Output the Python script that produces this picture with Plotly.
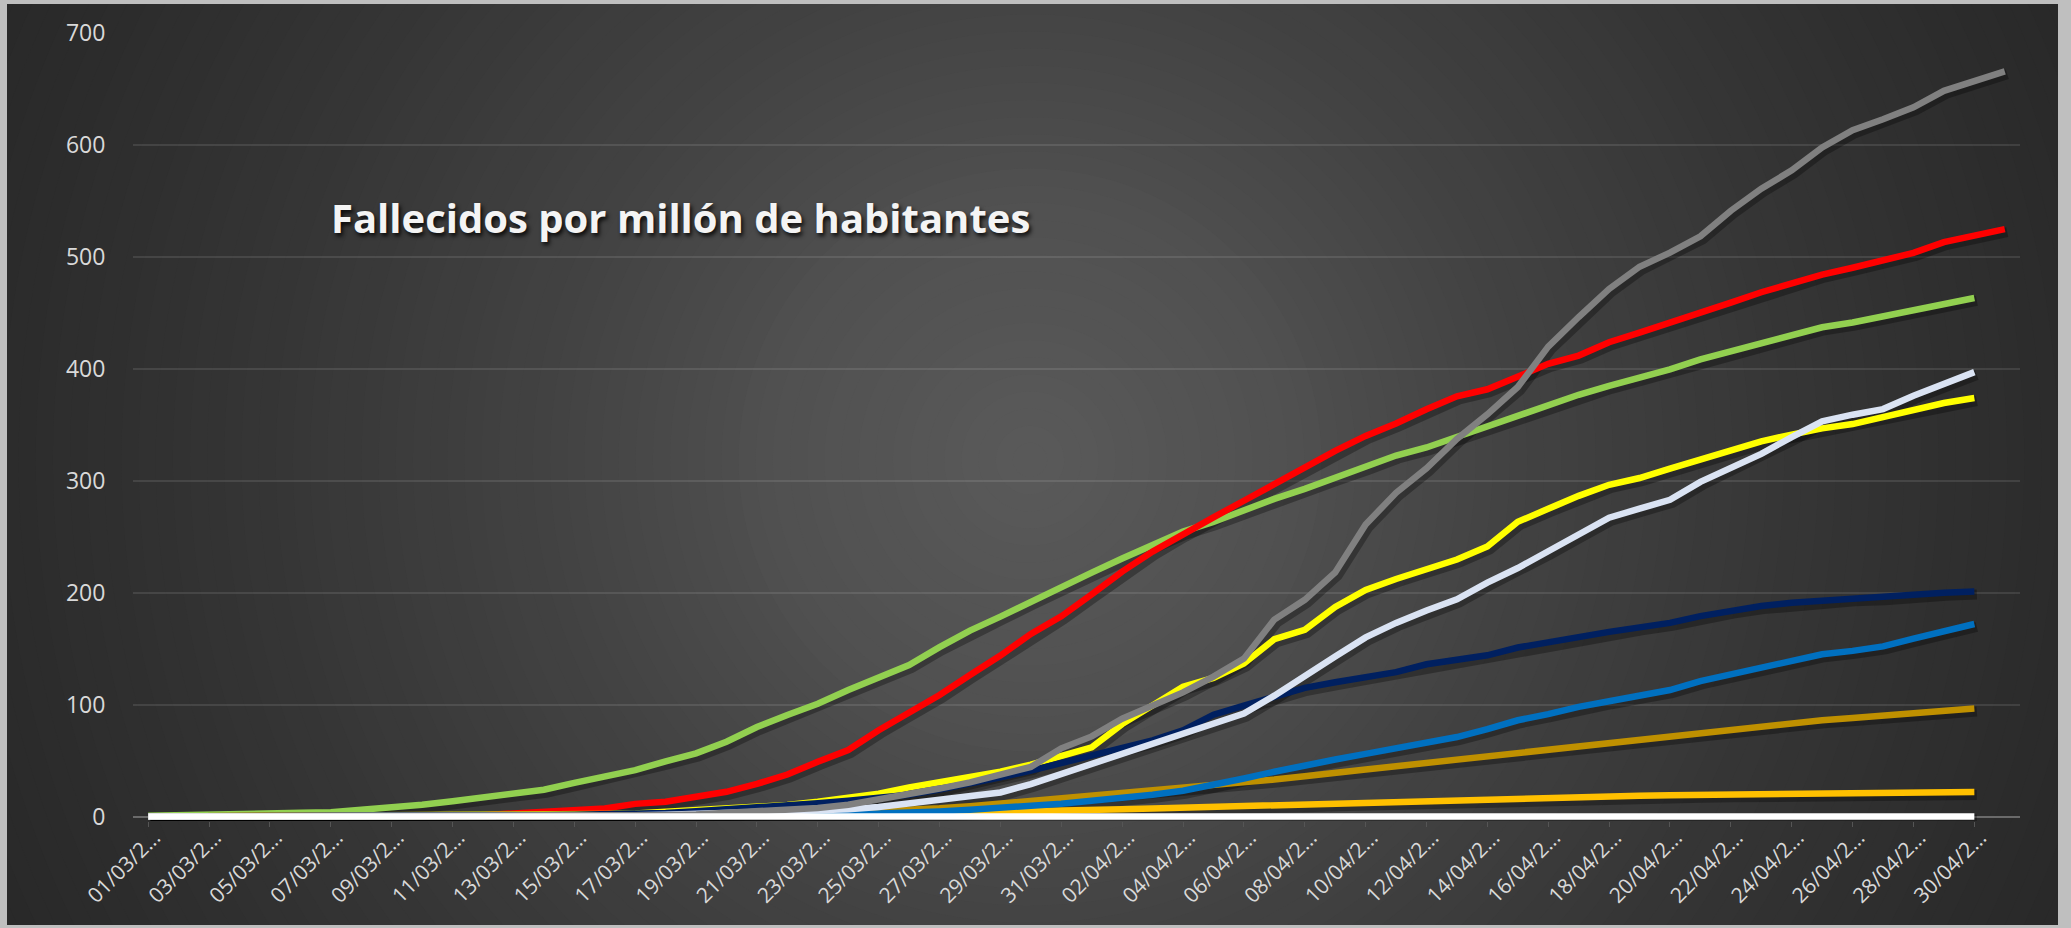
import plotly.graph_objects as go
import pandas as pd

# ---------------- data ----------------
dates = [d.strftime("%d/%m/%Y") for d in pd.date_range("2020-03-01", "2020-05-01", freq="D")]  # 62 categories
tick_dates = dates[::2]
tick_labels = [d[:7] + "..." for d in tick_dates]
y_ticks = [0, 100, 200, 300, 400, 500, 600, 700]

green = [0.6, 0.9, 1.3, 1.8, 2.5, 3.3, 3.9, 6.1, 7.7, 10.5, 13.7, 16.8, 21.0, 23.9, 30.0, 35.8,
         41.5, 49.3, 56.4, 66.8, 79.9, 90.7, 100.7, 113.0, 124.3, 135.3, 151.3, 166.1, 178.6, 192.0,
         205.9, 217.9, 230.5, 243.2, 254.5, 263.2, 273.7, 283.8, 292.7, 302.8, 312.3, 322.5, 329.7,
         339.1, 349.0, 358.6, 367.3, 376.8, 384.8, 392.0, 399.5, 408.4, 415.6, 423.3, 430.2, 437.1,
         441.4, 446.9, 453.3, 458.6, 463.3]
red = [0.0, 0.0, 0.0, 0.0, 0.1, 0.1, 0.2, 0.4, 0.6, 0.7, 1.1, 1.2, 2.8, 4.1, 6.1, 7.2, 11.3, 13.2,
       17.6, 22.1, 29.1, 37.5, 48.9, 59.4, 77.1, 92.3, 108.6, 126.5, 143.8, 163.1, 178.9, 198.5,
       218.8, 236.7, 252.6, 267.3, 282.1, 296.9, 312.7, 326.6, 340.0, 351.1, 363.8, 375.4, 381.7,
       392.8, 404.4, 411.8, 423.7, 432.4, 440.9, 449.9, 459.1, 468.4, 476.2, 484.2, 490.3, 497.3,
       503.6, 513.2, 518.9, 524.8]
yellow = [0.0, 0.1, 0.1, 0.1, 0.1, 0.1, 0.2, 0.3, 0.4, 0.5, 0.7, 0.9, 1.2, 1.4, 2.0, 2.3, 2.7, 4.1,
          5.7, 6.9, 8.6, 10.3, 13.2, 16.9, 20.4, 26.0, 30.6, 35.5, 40.0, 46.4, 54.0, 61.8, 82.6,
          99.8, 116.0, 123.9, 136.7, 158.4, 166.7, 187.3, 202.4, 212.2, 220.8, 229.6, 241.2, 263.3,
          274.9, 286.5, 296.4, 302.4, 310.8, 319.0, 327.3, 335.2, 341.2, 346.8, 350.6, 357.3, 362.9,
          369.4, 373.9]
gold = [0, 0, 0, 0, 0, 0, 0, 0, 0, 0, 0, 0, 0.05, 0.1, 0.1, 0.15, 0.2, 0.3, 0.4, 0.55, 0.8, 1.0, 1.3,
        1.6, 2.0, 2.4, 2.9, 3.4, 4.0, 4.6, 5.2, 5.8, 6.4, 7.2, 8.0, 8.8, 9.5, 10.2, 11.0, 11.8, 12.6,
        13.4, 14.2, 15.0, 15.7, 16.3, 16.9, 17.5, 18.0, 18.5, 19.0, 19.4, 19.8, 20.2, 20.6, 20.9,
        21.2, 21.4, 21.6, 21.8, 22.0]
dark_gold = [0, 0, 0, 0, 0, 0, 0, 0, 0, 0, 0, 0, 0, 0, 0, 0.1, 0.2, 0.3, 0.6, 0.6, 1.2, 1.4, 2.2,
             3.2, 4.2, 5.8, 7.3, 9.2, 11.5, 13.6, 16.0, 18.5, 20.5, 23.0, 26.0, 28.0, 30.5, 33.0,
             36.0, 39.5, 42.0, 45.0, 48.0, 51.0, 54.0, 57.0, 60.0, 63.0, 66.0, 69.0, 72.0, 74.0,
             77.0, 80.5, 83.0, 86.0, 88.0, 90.0, 92.0, 94.0, 96.5]
blue = [0, 0, 0, 0, 0, 0, 0.05, 0.06, 0.07, 0.08, 0.1, 0.1, 0.1, 0.15, 0.2, 0.2, 0.3, 0.4, 0.5,
        0.6, 0.8, 1.0, 1.3, 1.8, 2.4, 3.3, 4.5, 6.0, 7.5, 9.5, 11.5, 14.0, 16.5, 19.5, 23.0, 28.0,
        34.0, 40.0, 46.0, 51.0, 56.0, 61.0, 65.5, 71.0, 78.0, 86.0, 91.5, 98.0, 103.0, 108.0, 113.0,
        121.0, 127.0, 132.0, 139.0, 145.0, 148.0, 152.0, 159.0, 166.0, 172.0]
navy = [0, 0, 0, 0, 0.1, 0.1, 0.1, 0.2, 0.2, 0.3, 0.5, 0.5, 1.2, 1.4, 1.6, 1.9, 2.5, 3.2, 4.8, 6.3,
        8.4, 9.8, 11.8, 14.0, 16.5, 19.5, 24.0, 29.0, 35.0, 41.0, 48.0, 54.0, 61.0, 68.0, 77.0, 91.0,
        99.0, 107.0, 115.0, 120.0, 125.0, 129.0, 136.0, 140.0, 144.0, 151.0, 156.0, 161.0, 165.0,
        169.0, 173.0, 179.0, 184.0, 188.0, 191.0, 193.0, 195.0, 196.0, 199.0, 200.0, 201.0]
pale_blue = [0, 0, 0, 0, 0, 0.02, 0.03, 0.03, 0.05, 0.09, 0.12, 0.15, 0.3, 0.32, 0.53, 0.83, 1.07,
             1.56, 2.2, 2.66, 3.5, 4.0, 5.0, 6.4, 8.5, 11.5, 15.0, 17.5, 21.5, 29.0, 38.0, 46.0, 55.0,
             64.0, 73.0, 82.0, 92.0, 108.0, 126.0, 143.0, 160.0, 173.0, 184.0, 194.0, 209.0, 222.0,
             237.0, 252.0, 267.0, 275.0, 283.0, 299.0, 312.0, 324.0, 339.0, 353.0, 359.0, 364.0,
             376.0, 387.0, 397.0]
grey = [0, 0, 0, 0, 0, 0, 0, 0, 0, 0, 0.26, 0.26, 0.26, 0.35, 0.35, 0.43, 0.86, 1.21, 1.82, 3.2,
        5.79, 6.48, 7.61, 10.54, 15.38, 19.01, 24.98, 30.51, 37.25, 44.34, 60.93, 71.56, 87.38,
        98.79, 110.89, 125.06, 141.06, 175.97, 193.6, 218.06, 260.93, 289.2, 311.15, 337.34,
        359.29, 383.75, 419.79, 446.24, 471.31, 491.18, 503.72, 518.41, 541.23, 560.93, 577.27,
        597.84, 613.14, 622.9, 633.62, 648.31, 656.35, 665.77]
white = [0] * 61

# draw order: first = bottom
series = [
    ("Serie verde", green, "#92d050"),
    ("Serie roja", red, "#ff0000"),
    ("Serie amarilla", yellow, "#ffff00"),
    ("Serie oro", gold, "#ffc000"),
    ("Serie oro oscuro", dark_gold, "#bf9000"),
    ("Serie azul", blue, "#0070c0"),
    ("Serie azul marino", navy, "#002060"),
    ("Serie azul claro", pale_blue, "#dae3f3"),
    ("Serie gris", grey, "#808080"),
    ("Serie blanca", white, "#ffffff"),
]

# ---------------- geometry ----------------
W, H = 2071, 928
L, R, T, B = 133, 2020, 33, 821
YMIN, YMAX = -4, 700
cat_px = (R - L) / len(dates)
unit_px = (B - T) / (YMAX - YMIN)
sh_dx = 2.5 / cat_px
sh_dy = 3.0 / unit_px


def px2x(px):
    return (px - L) / (R - L)


def py2y(py):
    return (B - py) / (B - T)


fig = go.Figure()

# base trace (invisible) to register all categories on the main axes
fig.add_trace(go.Scatter(x=dates, y=red, mode="lines", opacity=0, hoverinfo="skip",
                         showlegend=False, xaxis="x", yaxis="y"))

# shadows
for name, vals, col in series:
    fig.add_trace(go.Scatter(x=dates[:len(vals)], y=vals, mode="lines", hoverinfo="skip",
                             line=dict(color="rgba(0,0,0,0.30)", width=10),
                             showlegend=False, xaxis="x2", yaxis="y2"))
# lines
for name, vals, col in series:
    fig.add_trace(go.Scatter(x=dates[:len(vals)], y=vals, mode="lines", name=name,
                             line=dict(color=col, width=6.5), showlegend=False,
                             xaxis="x3", yaxis="y3"))

# ---------------- background ----------------
shapes = []
cx, cy = 1030, 460
stops = [(0, 90), (250, 81), (500, 66), (800, 52), (1050, 43), (1200, 39)]


def level(d):
    for (d0, c0), (d1, c1) in zip(stops[:-1], stops[1:]):
        if d <= d1:
            return c0 + (c1 - c0) * (d - d0) / (d1 - d0)
    return stops[-1][1]


n = 70
rmax = 1200
for k in range(n):
    r = rmax * (1 - k / n)
    c = int(round(level(r)))
    shapes.append(dict(type="circle", xref="paper", yref="paper", layer="below",
                       x0=px2x(cx - r), x1=px2x(cx + r), y0=py2y(cy + r), y1=py2y(cy - r),
                       fillcolor=f"rgb({c},{c},{c})", line=dict(width=0)))

frame = "#bfbfbf"
fl, ft, fr, fb = 7, 4, 2058, 925
big = 1500
for (x0, x1, y0, y1) in [(-big, fl, -big, H + big), (fr, W + big, -big, H + big),
                         (-big, W + big, -big, ft), (-big, W + big, fb, H + big)]:
    shapes.append(dict(type="rect", xref="paper", yref="paper", layer="below",
                       x0=px2x(x0), x1=px2x(x1), y0=py2y(y1), y1=py2y(y0),
                       fillcolor=frame, line=dict(width=0)))

x_tick_font = dict(family="Open Sans", size=21, color="#d9d9d9")
y_tick_font = dict(family="Open Sans", size=23, color="#d9d9d9")

fig.update_layout(
    width=W, height=H,
    margin=dict(l=L, r=W - R, t=T, b=H - B, pad=0, autoexpand=False),
    paper_bgcolor=frame,
    plot_bgcolor="rgba(0,0,0,0)",
    shapes=shapes,
    showlegend=False,
    xaxis=dict(type="category", categoryorder="array", categoryarray=dates,
               range=[-0.5, len(dates) - 0.5], tickmode="array", tickvals=tick_dates,
               ticktext=tick_labels, tickangle=-45, tickfont=x_tick_font, showgrid=False,
               showline=False, zeroline=False, ticks="outside", ticklen=5,
               tickcolor="#555555", tickwidth=1, automargin=False,
               ticklabelstandoff=-10, ticklabelshift=6),
    yaxis=dict(range=[YMIN, YMAX], tickmode="array", tickvals=y_ticks, showgrid=True,
               gridcolor="rgba(255,255,255,0.10)", gridwidth=1.5, zeroline=True,
               zerolinecolor="#6a6a6a", zerolinewidth=2, ticks="outside", ticklen=22,
               tickcolor="rgba(0,0,0,0)", tickfont=y_tick_font, showline=False, automargin=False),
    xaxis2=dict(type="category", categoryorder="array", categoryarray=dates, overlaying="x",
                range=[-0.5 - sh_dx, len(dates) - 0.5 - sh_dx], visible=False),
    yaxis2=dict(overlaying="y", range=[YMIN + sh_dy, YMAX + sh_dy], visible=False),
    xaxis3=dict(type="category", categoryorder="array", categoryarray=dates, overlaying="x",
                range=[-0.5, len(dates) - 0.5], visible=False),
    yaxis3=dict(overlaying="y", range=[YMIN, YMAX], visible=False),
    annotations=[dict(text="<b>Fallecidos por millón de habitantes</b>", xref="paper", yref="paper",
                      x=px2x(329), y=py2y(217), xanchor="left", yanchor="middle", showarrow=False,
                      font=dict(family="Open Sans", size=40, color="#f4f4f4",
                                shadow="2px 3px 4px rgba(0,0,0,0.85)"))],
)

fig.write_html("out.html", config={"displayModeBar": False},
               post_script="document.body.style.margin='0';document.body.style.overflow='hidden';")
